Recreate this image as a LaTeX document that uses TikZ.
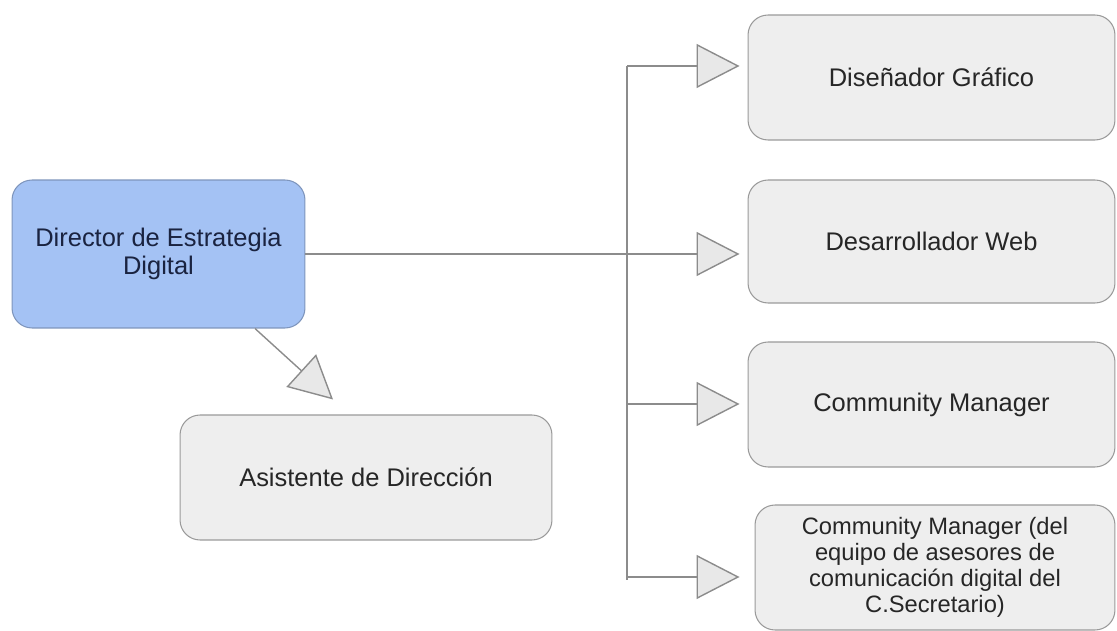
\documentclass[tikz,border=0pt]{standalone}
\usepackage{fontspec}
\setmainfont{Liberation Sans}
\usetikzlibrary{arrows.meta, positioning}
\definecolor{roleblue}{HTML}{A4C2F4}
\definecolor{roleblueline}{HTML}{7E95BC}
\definecolor{rolefill}{HTML}{EEEEEE}
\definecolor{roleline}{HTML}{9A9A9A}
\definecolor{linegray}{HTML}{8C8C8C}
\definecolor{tipgray}{HTML}{E8E8E8}
\tikzset{
  role/.style={draw=roleline, rectangle, rounded corners=0.4cm, fill=rolefill, align=center, inner sep=0pt, line width=0.6pt, text=black!85, font=\fontsize{14.5}{16}\selectfont},
  headrole/.style={role, fill=roleblue, draw=roleblueline, text={rgb,255:red,26;green,35;blue,64}},
  link/.style={draw=linegray, line width=0.8pt},
  arrow/.style={link, -{Triangle[length=0.86cm, width=0.88cm, fill=tipgray]}, shorten >=0.16cm}
}

\begin{document}
\begin{tikzpicture}[x=0.02cm, y=-0.02cm]
\useasboundingbox (0,0) rectangle (1117,631);

\node[headrole, minimum width=5.86cm, minimum height=2.96cm] (dir) at (158.5,254) {Director de Estrategia\\Digital};
\node[role, minimum width=7.44cm, minimum height=2.5cm] (asis) at (366,477.5) {Asistente de Dirección};

\node[role, minimum width=7.34cm, minimum height=2.5cm] (dg) at (931.5,77.5) {Diseñador Gráfico};
\node[role, minimum width=7.34cm, minimum height=2.46cm] (dw) at (931.5,241.5) {Desarrollador Web};
\node[role, minimum width=7.34cm, minimum height=2.5cm] (cm) at (931.5,404.5) {Community Manager};
\node[role, minimum width=7.2cm, minimum height=2.5cm, font=\fontsize{13.5}{14.8}\selectfont] (cms) at (935,567.5) {Community Manager (del\\equipo de asesores de\\comunicación digital del\\C.Secretario)};

% trunk to the team
\coordinate (t1) at (627,66);
\coordinate (t3) at (627,404);
\coordinate (t4) at (627,577);
\draw[link] (t1) -- ([yshift=-0.06cm]t4);

\draw[arrow] (dir.east) -- (dw.west |- dir.east);
\draw[arrow] (t1) -- (dg.west |- t1);
\draw[arrow] (t3) -- (cm.west |- t3);
\draw[arrow, shorten >=0.3cm] (t4) -- (cms.west |- t4);

\draw[arrow, shorten >=0pt] ([xshift=1.93cm]dir.south) -- ([xshift=-0.66cm, yshift=0.3cm]asis.north);

\end{tikzpicture}
\end{document}
